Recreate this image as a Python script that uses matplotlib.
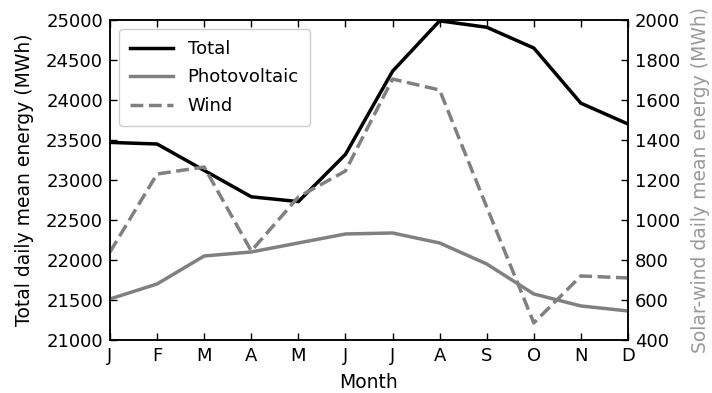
import matplotlib.pyplot as plt

# --- DATA ---
months = ["J", "F", "M", "A", "M", "J", "J", "A", "S", "O", "N", "D"]
total = [23470, 23450, 23120, 22790, 22730, 23320, 24360, 24990, 24910, 24650, 23960, 23700]
photovoltaic = [605, 680, 820, 840, 885, 930, 935, 885, 780, 630, 570, 545]
wind = [840, 1230, 1265, 845, 1115, 1245, 1705, 1650, 1065, 485, 720, 710]

plt.rcParams["font.family"] = "DejaVu Sans"
plt.rcParams["font.size"] = 13

x = range(len(months))

fig = plt.figure(figsize=(7.12, 3.93), dpi=100)
ax1 = fig.add_axes([0.1545, 0.135, 0.7275, 0.814])
ax2 = ax1.twinx()

# --- PLOT ---
l1, = ax1.plot(x, total, color="black", lw=2.5, label="Total")
l2, = ax2.plot(x, photovoltaic, color="gray", lw=2.5, label="Photovoltaic")
l3, = ax2.plot(x, wind, color="gray", lw=2.5, ls="--", label="Wind")

ax1.set_xlim(0, 11)
ax1.set_ylim(21000, 25000)
ax2.set_ylim(400, 2000)
ax1.set_xticks(list(x))
ax1.set_xticklabels(months)
ax1.set_yticks(range(21000, 25001, 500))
ax2.set_yticks(range(400, 2001, 200))

ax1.tick_params(direction="in", top=True, length=5, width=1, labelsize=13, pad=5)
ax2.tick_params(direction="in", length=5, width=1, labelsize=13, pad=5)

ax1.set_xlabel("Month", fontsize=13.5, labelpad=6)
ax1.set_ylabel("Total daily mean energy (MWh)", fontsize=13.5, labelpad=9)
ax2.set_ylabel("Solar-wind daily mean energy (MWh)", fontsize=13.5, color="#999999", labelpad=8)

for ax in (ax1, ax2):
    for s in ax.spines.values():
        s.set_linewidth(1.1)

ax1.legend(handles=[l1, l2, l3], loc="upper left", fontsize=13,
           handlelength=2.4, framealpha=1, borderpad=0.6, labelspacing=0.58)

plt.savefig("out.png", dpi=100)
